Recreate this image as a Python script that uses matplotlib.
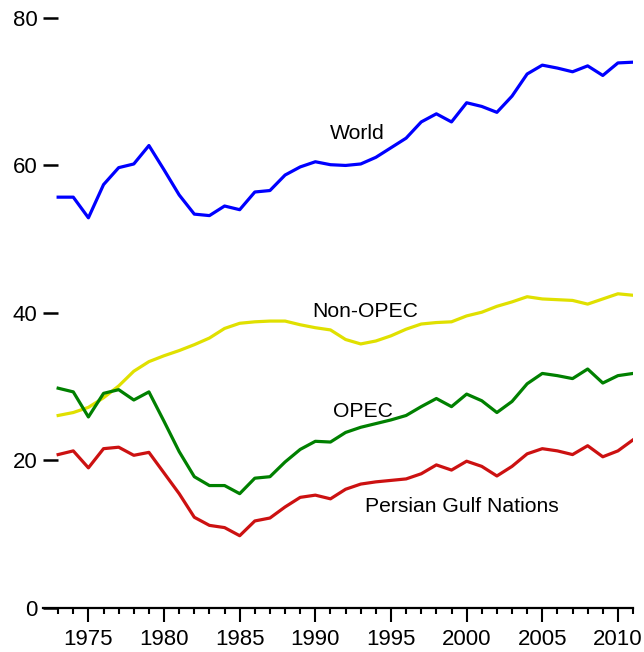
import matplotlib.pyplot as plt
from matplotlib.ticker import FixedLocator

plt.rcParams['font.family'] = ['Liberation Sans', 'DejaVu Sans']

years = list(range(1973, 2012))

world = [55.7, 55.7, 52.9, 57.4, 59.7, 60.2, 62.7, 59.4, 56.0, 53.4,
         53.2, 54.5, 54.0, 56.4, 56.6, 58.7, 59.8, 60.5, 60.1, 60.0,
         60.2, 61.1, 62.4, 63.7, 65.9, 67.0, 65.9, 68.5, 68.0, 67.2,
         69.4, 72.4, 73.6, 73.2, 72.7, 73.5, 72.2, 73.9, 74.0]

non_opec = [26.1, 26.5, 27.2, 28.5, 30.1, 32.1, 33.4, 34.2, 34.9, 35.7,
            36.6, 37.9, 38.6, 38.8, 38.9, 38.9, 38.4, 38.0, 37.7, 36.4,
            35.8, 36.2, 36.9, 37.8, 38.5, 38.7, 38.8, 39.6, 40.1, 40.9,
            41.5, 42.2, 41.9, 41.8, 41.7, 41.2, 41.9, 42.6, 42.4]

opec = [29.8, 29.3, 25.9, 29.1, 29.6, 28.2, 29.3, 25.3, 21.2, 17.8,
        16.6, 16.6, 15.5, 17.6, 17.8, 19.8, 21.5, 22.6, 22.5, 23.8,
        24.5, 25.0, 25.5, 26.1, 27.3, 28.4, 27.3, 29.0, 28.1, 26.5,
        28.0, 30.4, 31.8, 31.5, 31.1, 32.4, 30.5, 31.5, 31.8]

gulf = [20.8, 21.3, 19.0, 21.6, 21.8, 20.7, 21.1, 18.3, 15.5, 12.3,
        11.2, 10.9, 9.8, 11.8, 12.2, 13.7, 15.0, 15.3, 14.8, 16.1,
        16.8, 17.1, 17.3, 17.5, 18.2, 19.4, 18.7, 19.9, 19.2, 17.9,
        19.2, 20.9, 21.6, 21.3, 20.8, 22.0, 20.5, 21.3, 22.8]

major_years = [1975, 1980, 1985, 1990, 1995, 2000, 2005, 2010]
y_ticks = [0, 20, 40, 60, 80]

fig = plt.figure(figsize=(6.44, 6.52), dpi=100)
ax = fig.add_axes([0.0668, 0.0675, 0.9162, 0.905])

lw = 2.3
ax.plot(years, world, color='#0000ff', lw=lw)
ax.plot(years, non_opec, color='#e0e000', lw=lw)
ax.plot(years, opec, color='#008000', lw=lw)
ax.plot(years, gulf, color='#cc1111', lw=lw)

# labels next to the lines
fs = 15.2
ax.text(1990.95, 64.3, 'World', fontsize=fs, va='center', ha='left')
ax.text(1989.8, 40.2, 'Non-OPEC', fontsize=fs, va='center', ha='left')
ax.text(1991.2, 26.7, 'OPEC', fontsize=fs, va='center', ha='left')
ax.text(1993.3, 13.8, 'Persian Gulf Nations', fontsize=fs, va='center', ha='left')

ax.set_xlim(1972, 2011)
ax.set_ylim(0, 80)

ax.xaxis.set_major_locator(FixedLocator(major_years))
ax.xaxis.set_minor_locator(FixedLocator(years))
ax.set_yticks(y_ticks)

for s in ['left', 'right', 'top']:
    ax.spines[s].set_visible(False)
ax.spines['bottom'].set_linewidth(1.6)

ax.tick_params(axis='x', which='major', direction='out', length=10, width=1.5,
               labelsize=16, pad=5)
ax.tick_params(axis='x', which='minor', direction='out', length=4.5, width=1.5)
ax.tick_params(axis='y', which='major', direction='in', length=11, width=1.8,
               labelsize=16, pad=4)

plt.savefig('out.png')
